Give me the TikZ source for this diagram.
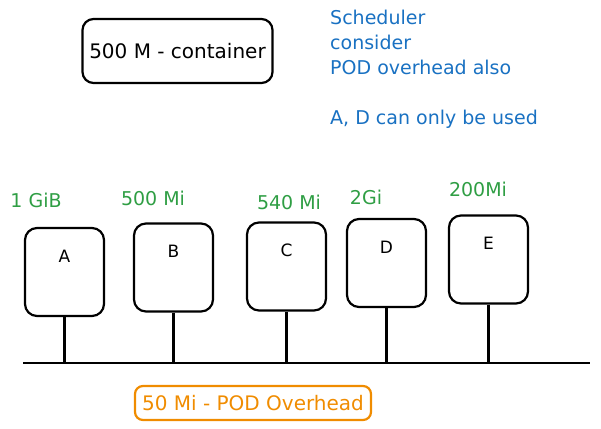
\documentclass[tikz,border=0pt]{standalone}
\usepackage{fontspec}
\setmainfont{DejaVu Sans}
\usetikzlibrary{positioning}

\definecolor{memgreen}{HTML}{2F9E44}
\definecolor{noteblue}{HTML}{1971C2}
\definecolor{overorange}{HTML}{F08C00}

\begin{document}
\begin{tikzpicture}[x=1pt,y=-1pt,
    pod/.style={draw, rounded corners=12pt, line width=2.2pt, minimum width=79pt, minimum height=88pt},
    memlabel/.style={text=memgreen, font=\fontsize{19}{22}\selectfont},
    stem/.style={line width=2.2pt},
    every node/.style={font=\fontsize{17}{20}\selectfont}
    ]
    \useasboundingbox (0,0) rectangle (601,428);

    % the container request
    \node[draw, rounded corners=11pt, line width=2.2pt, minimum width=190pt, minimum height=64pt, font=\fontsize{20}{24}\selectfont] (container) at (177.5,51) {500 M - container};

    % scheduler note
    \node[text=noteblue, align=left, anchor=north west, inner sep=0pt, font=\fontsize{19}{25}\selectfont] (note) at (330,10)
        {Scheduler\\consider\\POD overhead also\\[25pt]A, D can only be used};

    % the bus
    \coordinate (busL) at (23,363);
    \coordinate (busR) at (590,363);
    \draw[stem] (busL) -- (busR);

    % pods with their memory
    \foreach \n/\x/\y/\mem/\mx/\my in {A/64.5/272/1 GiB/36/200, B/173.5/267.5/500 Mi/153/198, C/286.5/266.5/540 Mi/289/202, D/386.5/263/2Gi/366/197, E/488.5/259.5/200Mi/478/189} {
        \node[pod, label={[yshift=16pt]center:\n}] (\n) at (\x,\y) {};
        \node[memlabel] (mem\n) at (\mx,\my) {\mem};
        \draw[stem] (\n.south) -- (\n.south |- busL);
    }

    % overhead note
    \node[draw=overorange, text=overorange, rounded corners=8pt, line width=2.2pt, minimum width=236pt, minimum height=34pt, font=\fontsize{20}{24}\selectfont] (overhead) at (253,403) {50 Mi - POD Overhead};
\end{tikzpicture}
\end{document}
